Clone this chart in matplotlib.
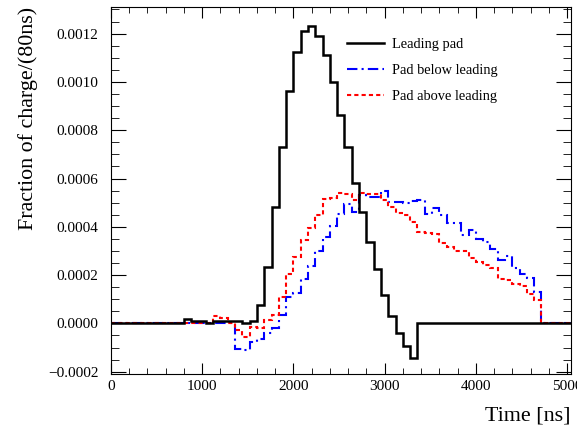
import numpy as np
import matplotlib
matplotlib.use("Agg")
import matplotlib.pyplot as plt
from matplotlib.lines import Line2D
from matplotlib.ticker import MultipleLocator, FuncFormatter

plt.rcParams['font.family'] = ['Liberation Serif', 'DejaVu Serif']

# histogram binning: 80 ns bins from 0 to 5040 ns
bin_width = 80
t_max = 5040

# bin contents, first bin starts at 800 ns
leading_pad = [0.000019, 0.000011, 0.000009, 0.000000, 0.000011, 0.000011, 0.000011,
               0.000009, 0.000003, 0.000011, 0.000076, 0.000233, 0.000480, 0.000731,
               0.000962, 0.001124, 0.001211, 0.001232, 0.001191, 0.001111, 0.001000,
               0.000865, 0.000729, 0.000580, 0.000460, 0.000335, 0.000224, 0.000117,
               0.000030, -0.000041, -0.000093, -0.000145]

pad_below = [0.0, 0.0, 0.0, 0.0, 0.0, 0.0, 0.0,
             -0.000105, -0.000110, -0.000078, -0.000065, -0.000041, -0.000021, 0.000034,
             0.000108, 0.000124, 0.000182, 0.000238, 0.000300, 0.000357, 0.000402,
             0.000455, 0.000494, 0.000462, 0.000530, 0.000524, 0.000524, 0.000550,
             0.000503, 0.000503, 0.000497, 0.000508, 0.000513, 0.000455, 0.000476,
             0.000448, 0.000414, 0.000414, 0.000366, 0.000386, 0.000348, 0.000338,
             0.000306, 0.000262, 0.000279, 0.000230, 0.000205, 0.000186, 0.000130]

pad_above = [0.0, 0.0, 0.0, 0.0, 0.000030, 0.000022, 0.000003,
             -0.000028, -0.000055, -0.000014, -0.000020, 0.000014, 0.000034, 0.000110,
             0.000204, 0.000276, 0.000345, 0.000395, 0.000448, 0.000517, 0.000520,
             0.000540, 0.000535, 0.000510, 0.000538, 0.000535, 0.000535, 0.000510,
             0.000480, 0.000458, 0.000448, 0.000418, 0.000379, 0.000374, 0.000370,
             0.000331, 0.000318, 0.000300, 0.000300, 0.000269, 0.000255, 0.000241,
             0.000230, 0.000182, 0.000179, 0.000164, 0.000156, 0.000122, 0.000097]

first_bin_time = 800

edges = np.arange(0, t_max + 1, bin_width)


def full_hist(vals, start):
    h = np.zeros(len(edges) - 1)
    i0 = start // bin_width
    h[i0:i0 + len(vals)] = vals
    return h


fig = plt.figure(figsize=(5.77, 4.29), dpi=100)
ax = fig.add_axes([0.1924, 0.128, 0.7966, 0.8555])

ax.stairs(full_hist(pad_below, first_bin_time), edges, baseline=None,
          color='#0000ff', lw=1.5, ls=(0, (5, 2, 1, 2)), zorder=2)
ax.stairs(full_hist(pad_above, first_bin_time), edges, baseline=None,
          color='#ff0000', lw=1.5, ls=(0, (2, 1.5)), zorder=2)
ax.stairs(full_hist(leading_pad, first_bin_time), edges, baseline=None,
          color='black', lw=1.8, zorder=3)

ax.set_xlim(0, t_max)
ax.set_ylim(-0.00021, 0.00131)

ax.xaxis.set_major_locator(MultipleLocator(1000))
ax.xaxis.set_minor_locator(MultipleLocator(200))
ax.yaxis.set_major_locator(MultipleLocator(0.0002))
ax.yaxis.set_minor_locator(MultipleLocator(0.00005))


def yfmt(v, pos):
    if abs(v) < 1e-12:
        v = 0.0
    return f"{v:.4f}".replace('-', '\u2212')


ax.yaxis.set_major_formatter(FuncFormatter(yfmt))

ax.tick_params(which='both', direction='in', top=True, right=True, labelsize=11)
ax.tick_params(axis='x', which='major', length=8, pad=4)
ax.tick_params(axis='x', which='minor', length=4)
ax.tick_params(axis='y', which='major', length=10.5, pad=9)
ax.tick_params(axis='y', which='minor', length=5.5)
for s in ax.spines.values():
    s.set_linewidth(0.8)

ax.set_xlabel('Time [ns]', fontsize=15.8, loc='right')
ax.xaxis.set_label_coords(1.0, -0.087)
ax.xaxis.label.set_va('top')
ax.set_ylabel('Fraction of charge/(80ns)', fontsize=15.8, loc='top')
ax.yaxis.set_label_coords(-0.159, 1.0)

handles = [Line2D([], [], color='black', lw=1.8),
           Line2D([], [], color='#0000ff', lw=1.5, ls=(0, (5, 2, 1, 2))),
           Line2D([], [], color='#ff0000', lw=1.5, ls=(0, (2, 1.5)))]
labels = ['Leading pad', 'Pad below leading', 'Pad above leading']
ax.legend(handles, labels, loc='upper left', bbox_to_anchor=(0.513, 0.916),
          frameon=False, fontsize=10.4, handlelength=2.6, handletextpad=0.5,
          labelspacing=0.9, borderpad=0, borderaxespad=0)

fig.savefig('out.png', dpi=100)
